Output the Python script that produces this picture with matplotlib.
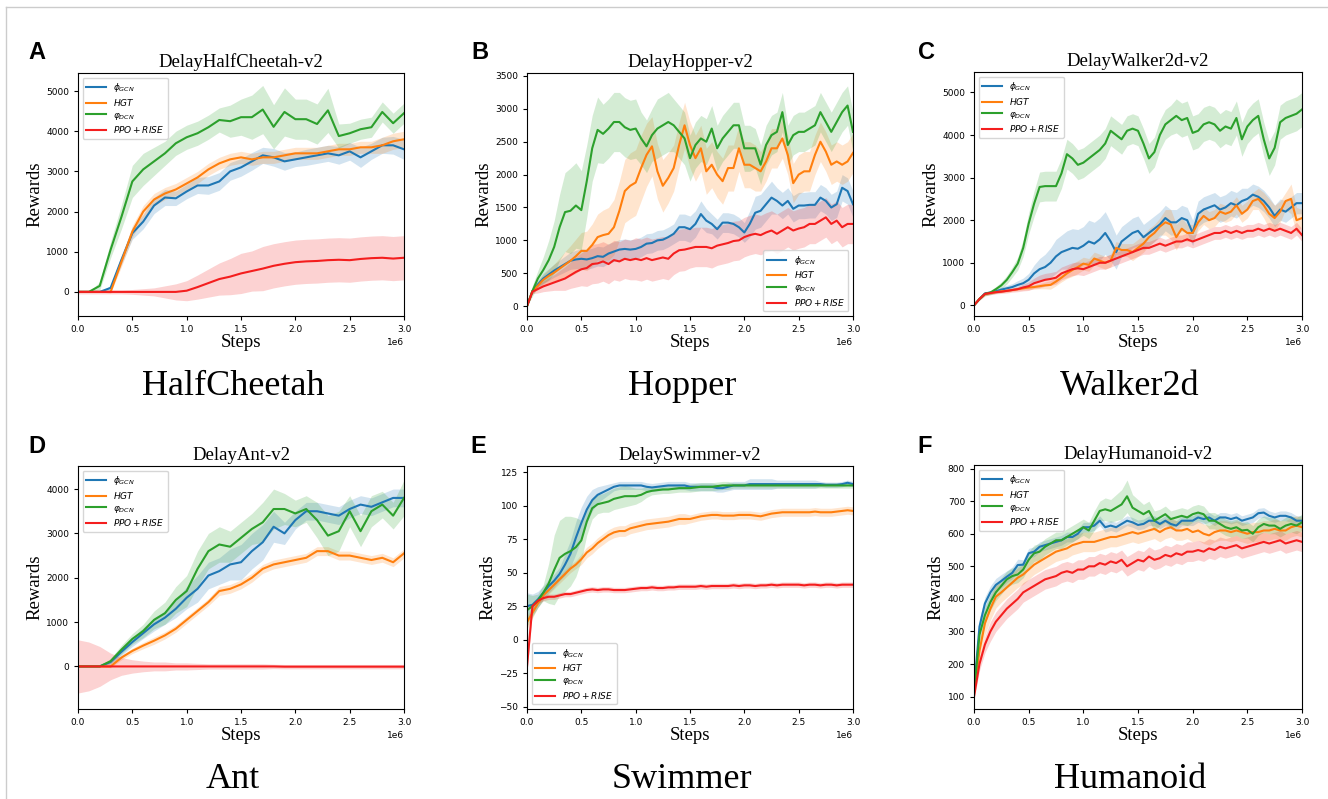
import numpy as np
import matplotlib
matplotlib.use("Agg")
import matplotlib.pyplot as plt
from matplotlib.lines import Line2D
from matplotlib.ticker import MultipleLocator

# ------------------------------------------------------------
# Data
# ------------------------------------------------------------
steps_coarse = np.linspace(0, 3e6, 31)   # 0.1e6 grid
steps_fine = np.linspace(0, 3e6, 61)     # 0.05e6 grid

labels = [r"$\phi_{GCN}$", r"$HGT$", r"$\varphi_{DCN}$", r"$PPO + RISE$"]
colors = ["#1f77b4", "#ff7f0e", "#2ca02c", "#f41e1e"]

# A: DelayHalfCheetah-v2 (coarse grid)
a_gcn = [0, 0, 0, 100, 800, 1460, 1750, 2150, 2350, 2330, 2500, 2650, 2650, 2750, 3000, 3100,
         3250, 3400, 3350, 3250, 3300, 3350, 3400, 3450, 3400, 3500, 3350, 3500, 3650, 3650, 3550]
a_gcn_sd = [0, 0, 0, 60, 120, 150, 180, 200, 200, 180, 180, 200, 220, 220, 220, 220,
            220, 200, 220, 220, 180, 200, 200, 200, 220, 220, 250, 200, 200, 220, 250]
a_hgt = [0, 0, 0, 0, 750, 1500, 2000, 2300, 2450, 2550, 2700, 2850, 3050, 3200, 3300, 3350,
         3300, 3350, 3350, 3400, 3450, 3450, 3450, 3500, 3550, 3550, 3600, 3600, 3650, 3750, 3800]
a_hgt_sd = [0, 0, 0, 30, 120, 150, 150, 150, 150, 150, 150, 150, 150, 150, 150, 150,
            150, 150, 150, 150, 150, 150, 150, 150, 150, 150, 150, 150, 200, 200, 200]
a_dcn = [0, 0, 150, 1050, 1870, 2750, 3050, 3250, 3450, 3700, 3850, 3950, 4100, 4280, 4250, 4350,
         4350, 4540, 4110, 4480, 4300, 4300, 4180, 4520, 3880, 3950, 4050, 4100, 4480, 4200, 4450]
a_dcn_sd = [0, 0, 100, 200, 300, 400, 400, 350, 300, 300, 300, 300, 300, 300, 400, 450,
            550, 600, 550, 600, 500, 500, 500, 550, 300, 250, 250, 250, 250, 250, 250]
a_rise = [0, 0, 0, 0, 0, 0, 0, 0, 0, 0, 30, 120, 220, 320, 380, 460,
          520, 580, 650, 700, 740, 760, 770, 790, 800, 790, 820, 840, 850, 830, 850]
a_rise_sd = [50, 50, 50, 50, 50, 60, 80, 100, 150, 200, 250, 300, 350, 400, 450, 500,
             500, 550, 550, 550, 550, 550, 550, 550, 550, 550, 550, 550, 550, 550, 550]

# B: DelayHopper-v2 (fine grid)
b_gcn = [0, 230, 330, 420, 480, 540, 590, 640, 690, 710,
         720, 710, 730, 760, 750, 800, 830, 860, 870, 860,
         870, 900, 950, 960, 1000, 1010, 1050, 1100, 1200, 1200,
         1170, 1250, 1400, 1300, 1250, 1170, 1270, 1270, 1250, 1200,
         1120, 1250, 1420, 1450, 1550, 1650, 1600, 1530, 1600, 1480,
         1530, 1530, 1540, 1540, 1650, 1600, 1500, 1550, 1800, 1750,
         1550]
b_gcn_sd = [0, 40, 60, 80, 90, 100, 110, 120, 130, 140,
            150, 150, 150, 150, 150, 150, 150, 150, 150, 150,
            150, 150, 150, 150, 150, 150, 150, 150, 200, 200,
            200, 200, 200, 180, 150, 150, 150, 150, 150, 150,
            150, 200, 250, 250, 250, 250, 200, 200, 200, 200,
            200, 200, 200, 200, 200, 200, 200, 200, 200, 200,
            200]
b_hgt = [0, 230, 310, 400, 460, 510, 570, 630, 690, 760,
         840, 840, 930, 1050, 1080, 1100, 1200, 1450, 1750, 1830,
         1880, 2100, 2300, 2430, 2050, 1830, 1950, 2100, 2450, 2750,
         2450, 2250, 2400, 2050, 2150, 2000, 1900, 2100, 2100, 2400,
         2150, 2150, 2100, 2050, 2200, 2400, 2400, 2550, 2300, 1870,
         2000, 2050, 2050, 2300, 2500, 2350, 2150, 2200, 2150, 2200,
         2330]
b_hgt_sd = [0, 40, 60, 80, 100, 130, 160, 200, 230, 260,
            280, 300, 320, 350, 380, 400, 420, 450, 480, 500,
            500, 500, 480, 450, 420, 400, 380, 350, 350, 350,
            350, 350, 350, 350, 350, 350, 350, 350, 350, 350,
            350, 350, 350, 300, 300, 300, 300, 300, 300, 300,
            300, 300, 300, 300, 300, 300, 300, 300, 300, 300,
            300]
b_dcn = [0, 230, 420, 550, 700, 900, 1200, 1430, 1450, 1530,
         1460, 1900, 2400, 2680, 2620, 2700, 2800, 2800, 2720, 2680,
         2700, 2550, 2430, 2600, 2700, 2750, 2800, 2750, 2650, 2550,
         2250, 2450, 2550, 2500, 2700, 2400, 2550, 2650, 2750, 2750,
         2400, 2400, 2400, 2150, 2450, 2600, 2650, 2950, 2450, 2600,
         2650, 2650, 2700, 2750, 2950, 2800, 2650, 2800, 2950, 3050,
         2650]
b_dcn_sd = [0, 80, 120, 200, 300, 400, 500, 600, 650, 650,
            600, 550, 500, 500, 450, 450, 450, 450, 450, 450,
            450, 400, 400, 400, 450, 450, 450, 400, 400, 400,
            350, 350, 350, 350, 350, 350, 350, 350, 350, 350,
            350, 350, 300, 300, 300, 300, 300, 300, 300, 300,
            300, 300, 300, 300, 300, 300, 300, 300, 300, 300,
            300]
b_rise = [0, 220, 260, 300, 330, 360, 390, 420, 470, 520,
          560, 580, 640, 650, 680, 640, 700, 680, 720, 700,
          720, 700, 730, 700, 720, 740, 720, 800, 850, 860,
          880, 900, 900, 900, 880, 920, 940, 960, 990, 1000,
          1050, 1080, 1100, 1080, 1120, 1150, 1100, 1150, 1200, 1150,
          1180, 1200, 1250, 1250, 1300, 1350, 1250, 1300, 1200, 1250,
          1250]
b_rise_sd = [0, 30, 60, 80, 100, 120, 150, 180, 200, 230,
             250, 280, 300, 300, 300, 300, 300, 300, 300, 300,
             320, 320, 320, 320, 320, 320, 320, 320, 320, 320,
             300, 300, 300, 300, 300, 300, 300, 300, 300, 300,
             300, 300, 300, 300, 300, 300, 300, 300, 300, 300,
             300, 300, 300, 300, 300, 300, 300, 300, 300, 300,
             300]

# C: DelayWalker2d-v2 (fine grid)
c_gcn = [0, 150, 280, 300, 330, 370, 400, 430, 480, 520,
         600, 750, 850, 900, 1000, 1150, 1250, 1300, 1350, 1330,
         1400, 1500, 1450, 1550, 1700, 1500, 1250, 1500, 1600, 1700,
         1750, 1600, 1700, 1800, 1900, 2050, 1950, 1950, 2050, 2000,
         1700, 2150, 2250, 2300, 2350, 2250, 2300, 2400, 2350, 2450,
         2500, 2600, 2550, 2450, 2300, 2100, 2250, 2200, 2300, 2400,
         2400]
c_gcn_sd = [0, 20, 30, 40, 50, 60, 70, 80, 100, 120,
            150, 200, 250, 300, 350, 400, 400, 450, 450, 450,
            450, 500, 500, 500, 500, 450, 400, 350, 350, 350,
            350, 300, 300, 300, 300, 300, 300, 300, 300, 300,
            300, 300, 300, 300, 300, 300, 300, 300, 300, 300,
            250, 250, 250, 250, 250, 250, 250, 250, 250, 250,
            250]
c_hgt = [0, 150, 260, 290, 310, 330, 340, 360, 380, 400,
         420, 430, 450, 470, 480, 560, 650, 750, 830, 900,
         980, 950, 1100, 1050, 1000, 1050, 1350, 1300, 1300, 1250,
         1350, 1450, 1600, 1700, 1850, 1950, 1900, 1600, 1800, 1700,
         1700, 1950, 2100, 2000, 2050, 2200, 2150, 2200, 2350, 2150,
         2250, 2450, 2500, 2350, 2150, 2050, 2200, 2450, 2500, 2000,
         2050]
c_hgt_sd = [0, 20, 30, 30, 30, 30, 30, 30, 30, 40,
            50, 50, 60, 80, 100, 100, 100, 120, 150, 150,
            150, 150, 150, 150, 150, 150, 150, 150, 150, 200,
            200, 200, 200, 200, 200, 300, 350, 300, 250, 200,
            200, 200, 200, 200, 200, 200, 200, 200, 200, 200,
            200, 200, 250, 300, 350, 300, 250, 200, 350, 300,
            200]
c_dcn = [0, 150, 270, 300, 380, 470, 600, 780, 980, 1350,
         1920, 2390, 2780, 2800, 2800, 2800, 3100, 3550, 3450, 3300,
         3350, 3450, 3550, 3650, 3800, 4100, 4000, 3900, 4100, 4150,
         4100, 3800, 3450, 3600, 4000, 4250, 4350, 4450, 4350, 4400,
         4050, 4100, 4250, 4300, 4250, 4100, 4200, 4150, 4400, 3900,
         4200, 4350, 4450, 3900, 3450, 3700, 4300, 4400, 4450, 4500,
         4600]
c_dcn_sd = [0, 30, 50, 50, 60, 80, 100, 120, 150, 200,
            250, 300, 350, 350, 350, 350, 350, 350, 350, 350,
            350, 350, 350, 350, 350, 350, 350, 350, 350, 350,
            350, 350, 350, 350, 350, 350, 350, 400, 400, 400,
            400, 400, 400, 400, 400, 400, 400, 400, 400, 400,
            400, 400, 400, 400, 400, 400, 400, 400, 400, 400,
            400]
c_rise = [0, 150, 270, 290, 310, 320, 340, 360, 380, 420,
          450, 520, 560, 600, 620, 650, 750, 800, 850, 870,
          850, 900, 950, 1000, 1000, 1050, 1100, 1150, 1200, 1250,
          1300, 1350, 1350, 1400, 1450, 1400, 1450, 1500, 1500, 1550,
          1500, 1550, 1600, 1650, 1700, 1700, 1750, 1700, 1750, 1700,
          1750, 1750, 1800, 1750, 1800, 1750, 1800, 1750, 1700, 1800,
          1650]
c_rise_sd = [0, 30, 40, 40, 40, 40, 50, 50, 60, 80,
             100, 120, 150, 150, 150, 150, 150, 150, 150, 150,
             150, 150, 150, 150, 150, 150, 150, 150, 150, 150,
             150, 150, 150, 150, 150, 150, 150, 150, 150, 150,
             150, 150, 150, 150, 150, 150, 150, 150, 150, 150,
             150, 150, 150, 150, 150, 150, 150, 150, 150, 150,
             150]

# D: DelayAnt-v2 (coarse grid)
d_gcn = [0, 0, 0, 100, 330, 550, 750, 950, 1100, 1300, 1550, 1750, 2050, 2150, 2300, 2350,
         2600, 2800, 3150, 3000, 3300, 3500, 3500, 3450, 3400, 3550, 3650, 3600, 3700, 3800, 3800]
d_gcn_sd = [0, 0, 0, 50, 80, 100, 120, 150, 150, 200, 250, 300, 300, 300, 350, 400,
            400, 400, 350, 250, 200, 200, 200, 200, 200, 200, 200, 200, 200, 200, 200]
d_hgt = [0, 0, 0, 0, 200, 350, 470, 580, 700, 850, 1050, 1250, 1450, 1700, 1750, 1850,
         2000, 2200, 2300, 2350, 2400, 2450, 2600, 2600, 2500, 2500, 2450, 2400, 2450, 2350, 2550]
d_hgt_sd = [0, 0, 0, 30, 50, 60, 70, 80, 80, 80, 80, 80, 80, 100, 100, 100,
            100, 100, 100, 100, 100, 100, 100, 100, 100, 100, 100, 100, 100, 100, 100]
d_dcn = [0, 0, 0, 120, 380, 620, 800, 1050, 1200, 1500, 1700, 2200, 2600, 2750, 2700, 2900,
         3100, 3250, 3550, 3550, 3450, 3550, 3300, 2950, 3050, 3500, 3050, 3500, 3650, 3400, 3800]
d_dcn_sd = [0, 0, 0, 60, 100, 120, 150, 200, 250, 300, 350, 400, 400, 400, 350, 350,
            350, 450, 450, 350, 300, 300, 400, 450, 450, 350, 350, 350, 300, 300, 400]
d_rise = [0, 0, 0, 0, 0, 0, 0, 0, 0, 0, 0, 0, 0, 0, 0, 0,
          0, 0, 0, -5, -5, -5, -5, -5, -5, -5, -5, -5, -5, -5, -5]
d_rise_sd = [600, 550, 450, 300, 200, 150, 120, 100, 100, 80, 80, 70, 60, 60, 60, 60,
             60, 60, 50, 50, 50, 50, 50, 50, 50, 50, 50, 50, 50, 50, 50]

# E: DelaySwimmer-v2 (fine grid)
e_gcn = [25, 26, 30, 35, 40, 44, 49, 56, 64, 76,
         87, 97, 104, 108, 110, 112, 114, 115, 115, 115,
         115, 115, 114, 113.5, 114, 114.5, 115, 115, 115, 115,
         114, 114, 114, 114, 114, 113, 113, 114, 115, 115,
         115, 116, 116, 116, 116, 116, 116, 116, 116, 116,
         116, 116, 116, 116, 116, 115.5, 115.5, 115.5, 116, 117,
         116]
e_gcn_sd = [10, 8, 6, 5, 5, 5, 5, 8, 10, 12,
            12, 10, 8, 6, 5, 4, 3, 3, 3, 3,
            3, 3, 3, 3, 3, 3, 3, 3, 3, 3,
            3, 3, 3, 3, 3, 3, 3, 3, 3, 3,
            3, 4, 4, 4, 4, 4, 3, 3, 3, 3,
            3, 3, 3, 3, 2, 2, 2, 2, 2, 2,
            2]
e_hgt = [13, 20, 27, 33, 37, 41, 45, 49, 53, 56,
         60, 65, 68, 72, 75, 78, 80, 81, 81, 83,
         84, 85, 86, 86.5, 87, 87.5, 88, 89, 90, 90,
         90, 91, 92, 92.5, 93, 93, 92.5, 92.5, 92.5, 93,
         93, 93, 92.5, 92, 93, 94, 94.5, 95, 95, 95,
         95, 95, 95, 95.5, 95, 95, 95, 95.5, 96, 96.5,
         96]
e_hgt_sd = [5, 4, 3, 3, 3, 3, 3, 3, 3, 3,
            4, 4, 4, 4, 4, 4, 4, 4, 4, 4,
            4, 4, 4, 4, 4, 4, 4, 4, 4, 4,
            3, 3, 3, 3, 3, 3, 3, 3, 3, 3,
            3, 3, 3, 3, 3, 3, 3, 3, 3, 3,
            3, 3, 3, 3, 3, 3, 3, 3, 3, 3,
            3]
e_dcn = [22, 25, 29, 35, 42, 52, 61, 64, 66, 69,
         74, 88, 98, 101, 102, 103, 105, 106, 107, 107,
         107, 108, 110, 111, 111.5, 112, 112, 112.5, 113, 113,
         113, 113.5, 114, 114, 114, 114.5, 115, 115, 115, 115,
         115, 115, 115, 115, 115, 115, 115, 115, 115, 115,
         115, 115, 115, 115, 115, 115, 115, 115, 115, 115,
         115]
e_dcn_sd = [12, 8, 5, 6, 15, 26, 28, 28, 26, 22,
            15, 10, 8, 7, 7, 8, 8, 8, 8, 7,
            6, 5, 4, 3, 3, 3, 3, 3, 3, 3,
            3, 3, 3, 3, 3, 3, 3, 3, 2, 2,
            2, 2, 2, 2, 2, 2, 2, 2, 2, 2,
            2, 2, 2, 2, 2, 2, 2, 2, 2, 2,
            2]
e_rise = [-20, 25, 29, 31, 32, 32, 33, 34, 34, 35,
          36, 37, 37.5, 37, 37.5, 37.5, 37, 37, 37, 37.5,
          38, 38.5, 38.5, 39, 38.5, 38.5, 39, 39, 39.5, 39.5,
          39.5, 39.5, 40, 39.5, 40, 40, 40, 40, 40.5, 40,
          40.5, 40.5, 40, 40.5, 40.5, 41, 40.5, 41, 41, 41,
          41, 40.5, 41, 41, 40.5, 41, 41, 40.5, 41, 41,
          41]
e_rise_sd = [5, 3, 2, 2, 2, 2, 2, 2, 2, 2,
             2, 2, 2, 2, 2, 2, 2, 2, 2, 2,
             2, 2, 2, 2, 2, 2, 2, 2, 2, 2,
             2, 2, 2, 2, 2, 2, 2, 2, 2, 2,
             2, 2, 2, 2, 2, 2, 2, 2, 2, 2,
             2, 2, 2, 2, 2, 2, 2, 2, 2, 2,
             2]

# F: DelayHumanoid-v2 (fine grid)
f_gcn = [120, 315, 386, 420, 443, 455, 468, 480, 504, 505,
         540, 545, 560, 565, 570, 575, 580, 590, 590, 600,
         620, 620, 625, 640, 620, 625, 620, 630, 640, 635,
         627, 630, 640, 640, 630, 640, 630, 625, 640, 640,
         640, 650, 645, 650, 640, 650, 650, 645, 650, 640,
         645, 650, 663, 665, 655, 650, 655, 655, 650, 640,
         640]
f_gcn_sd = [10, 25, 20, 20, 20, 20, 18, 18, 18, 15,
            15, 15, 15, 15, 15, 15, 15, 15, 15, 15,
            15, 15, 15, 15, 15, 15, 15, 15, 15, 15,
            15, 15, 15, 15, 15, 15, 15, 15, 15, 15,
            15, 15, 15, 15, 15, 15, 15, 15, 15, 15,
            15, 15, 15, 15, 15, 15, 15, 15, 15, 15,
            15]
f_hgt = [110, 240, 325, 370, 407, 420, 435, 450, 465, 475,
         490, 505, 515, 525, 535, 545, 550, 555, 565, 570,
         575, 575, 575, 580, 585, 590, 590, 595, 600, 605,
         600, 605, 610, 615, 605, 615, 620, 610, 610, 615,
         605, 610, 600, 595, 605, 610, 610, 605, 610, 605,
         600, 605, 605, 610, 610, 615, 610, 610, 620, 625,
         620]
f_hgt_sd = [10, 30, 35, 35, 35, 30, 30, 30, 30, 30,
            30, 30, 30, 30, 30, 30, 30, 30, 30, 30,
            30, 30, 30, 30, 30, 30, 30, 30, 30, 30,
            30, 30, 30, 30, 30, 30, 30, 30, 30, 30,
            30, 30, 30, 30, 30, 30, 30, 30, 30, 30,
            30, 30, 30, 30, 30, 30, 30, 30, 30, 30,
            30]
f_dcn = [110, 290, 350, 390, 420, 440, 460, 470, 475, 490,
         520, 540, 545, 560, 570, 580, 580, 590, 600, 610,
         620, 610, 640, 670, 675, 670, 680, 690, 715, 680,
         670, 660, 670, 640, 650, 660, 645, 650, 655, 650,
         660, 665, 660, 640, 640, 630, 620, 615, 620, 610,
         612, 600, 620, 630, 625, 625, 615, 625, 630, 625,
         635]
f_dcn_sd = [10, 25, 25, 25, 25, 25, 25, 25, 25, 25,
            25, 25, 25, 25, 25, 25, 25, 25, 25, 25,
            25, 25, 30, 30, 35, 35, 40, 45, 50, 40,
            35, 30, 30, 30, 25, 25, 25, 25, 25, 25,
            25, 25, 25, 25, 25, 25, 25, 25, 25, 25,
            25, 25, 25, 25, 25, 25, 25, 25, 25, 25,
            25]
f_rise = [100, 200, 260, 300, 330, 350, 370, 385, 400, 420,
          430, 440, 450, 460, 465, 470, 480, 485, 480, 490,
          490, 500, 500, 510, 505, 515, 510, 520, 500, 510,
          520, 515, 530, 520, 525, 535, 530, 540, 535, 545,
          545, 550, 545, 555, 550, 560, 555, 560, 565, 555,
          560, 565, 570, 575, 570, 575, 580, 570, 575, 580,
          575]
f_rise_sd = [10, 20, 25, 30, 30, 30, 30, 30, 30, 30,
             30, 30, 30, 30, 30, 30, 30, 30, 30, 30,
             30, 30, 30, 30, 30, 30, 30, 30, 30, 30,
             30, 30, 30, 30, 30, 30, 30, 30, 30, 30,
             30, 30, 30, 30, 30, 30, 30, 30, 30, 30,
             30, 30, 30, 30, 30, 30, 30, 30, 30, 30,
             30]

# ------------------------------------------------------------
# Panel layout
# ------------------------------------------------------------
panels = [
    # letter, title, env name, steps, curves, ylim, ytick step, legend loc
    ("A", "DelayHalfCheetah-v2", "HalfCheetah", steps_coarse,
     [(a_gcn, a_gcn_sd), (a_hgt, a_hgt_sd), (a_dcn, a_dcn_sd), (a_rise, a_rise_sd)],
     (-600, 5450), 1000, "upper left"),
    ("B", "DelayHopper-v2", "Hopper", steps_fine,
     [(b_gcn, b_gcn_sd), (b_hgt, b_hgt_sd), (b_dcn, b_dcn_sd), (b_rise, b_rise_sd)],
     (-150, 3545), 500, "lower right"),
    ("C", "DelayWalker2d-v2", "Walker2d", steps_fine,
     [(c_gcn, c_gcn_sd), (c_hgt, c_hgt_sd), (c_dcn, c_dcn_sd), (c_rise, c_rise_sd)],
     (-250, 5480), 1000, "upper left"),
    ("D", "DelayAnt-v2", "Ant", steps_coarse,
     [(d_gcn, d_gcn_sd), (d_hgt, d_hgt_sd), (d_dcn, d_dcn_sd), (d_rise, d_rise_sd)],
     (-960, 4520), 1000, "upper left"),
    ("E", "DelaySwimmer-v2", "Swimmer", steps_fine,
     [(e_gcn, e_gcn_sd), (e_hgt, e_hgt_sd), (e_dcn, e_dcn_sd), (e_rise, e_rise_sd)],
     (-51.7, 129.5), 25, "lower left"),
    ("F", "DelayHumanoid-v2", "Humanoid", steps_fine,
     [(f_gcn, f_gcn_sd), (f_hgt, f_hgt_sd), (f_dcn, f_dcn_sd), (f_rise, f_rise_sd)],
     (62, 811), 100, "upper left"),
]

W, H = 1328, 799
# axes boxes in pixels: left, top, right, bottom
boxes = [
    (78, 73, 404, 316), (527, 73, 853, 316), (974, 72, 1302, 316),
    (78, 466, 404, 709), (527, 466, 853, 709), (974, 465, 1302, 709),
]
letter_pos = [(28, 59), (471, 59), (918, 59), (28, 453), (470, 453), (917, 453)]
env_y = [387, 387, 387, 780, 780, 780]

serif = "Liberation Serif"

fig = plt.figure(figsize=(W / 100, H / 100), dpi=100)

for (letter, title, env, steps, curves, ylim, ystep, loc), box, lp, ey in zip(
        panels, boxes, letter_pos, env_y):
    l, t, r, b = box
    ax = fig.add_axes([l / W, 1 - b / H, (r - l) / W, (b - t) / H])

    for (mean, sd), color, label in zip(curves, colors, labels):
        mean = np.array(mean, dtype=float)
        sd = np.array(sd, dtype=float)
        ax.fill_between(steps, mean - sd, mean + sd, color=color, alpha=0.2, lw=0)
        ax.plot(steps, mean, color=color, lw=1.5, label=label)

    ax.set_xlim(0, 3e6)
    ax.set_ylim(*ylim)
    ax.xaxis.set_major_locator(MultipleLocator(0.5e6))
    ax.yaxis.set_major_locator(MultipleLocator(ystep))
    ax.tick_params(labelsize=6.5, length=3)
    ax.xaxis.get_offset_text().set_fontsize(6.5)

    ax.set_title(title, fontsize=13.5, family=serif, pad=4)
    ax.set_xlabel("Steps", fontsize=13.5, family=serif, labelpad=0)
    ax.set_ylabel("Rewards", fontsize=13.5, family=serif, labelpad=2)

    ax.legend(loc=loc, fontsize=6.5, handlelength=2.2, labelspacing=0.3)

    fig.text(lp[0] / W, 1 - lp[1] / H, letter, fontsize=17, fontweight="bold",
             family="Liberation Sans", ha="left", va="baseline")
    fig.text(((l + r) / 2 - 8) / W, 1 - ey / H, env, fontsize=26, family=serif,
             ha="center", va="center")

# thin grey frame on top and left edge
fig.add_artist(Line2D([6 / W, 1], [1 - 7 / H, 1 - 7 / H], transform=fig.transFigure,
                      color="#cccccc", lw=1))
fig.add_artist(Line2D([6 / W, 6 / W], [0, 1 - 7 / H], transform=fig.transFigure,
                      color="#cccccc", lw=1))

fig.savefig("out.png", dpi=100)
